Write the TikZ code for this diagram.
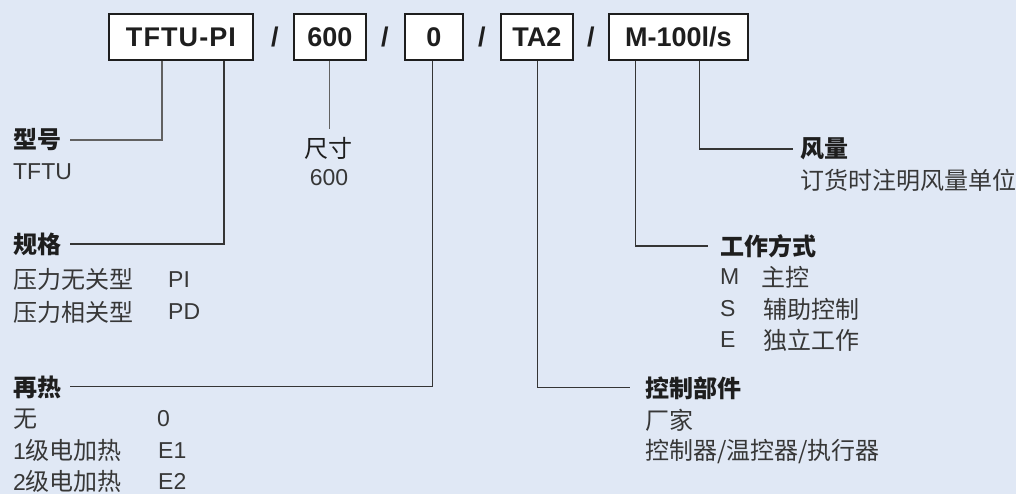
\documentclass[tikz,border=0pt]{standalone}
\usepackage{fontspec}
\setmainfont{Liberation Sans}
\newfontfamily\cjk{Noto Sans CJK SC}
\usetikzlibrary{calc}

\definecolor{bgblue}{RGB}{224,232,245}
\definecolor{ink}{RGB}{30,30,30}
\definecolor{txtgray}{RGB}{55,55,55}

\begin{document}
\begin{tikzpicture}[x=1pt, y=-1pt,
  box/.style={draw=ink, line width=1.6pt, fill=white, minimum height=46pt, inner sep=0,
    font=\fontsize{27}{30}\selectfont\bfseries, text=ink},
  slash/.style={font=\fontsize{27}{30}\selectfont\bfseries, text=ink},
  head/.style={anchor=west, inner sep=0, font=\cjk\fontsize{24}{27}\selectfont\bfseries, text=ink},
  item/.style={anchor=west, inner sep=0, font=\fontsize{23}{27}\selectfont, text=txtgray},
  cjkitem/.style={item, font=\cjk\fontsize{24}{27}\selectfont},
  lead/.style={draw=ink!90, line width=1.1pt}]
\fill [bgblue] (0,0) rectangle (1016,494);

\node [box, minimum width=144pt] (tftu) at (181,37) {\addfontfeature{LetterSpace=4}TFTU-PI};
\node [slash] (s1) at (275,37) {/};
\node [box, minimum width=72pt] (size) at (330,37) {600};
\node [slash] (s2) at (385,37) {/};
\node [box, minimum width=58pt] (heat) at (434,37) {0};
\node [slash] (s3) at (482,37) {/};
\node [box, minimum width=72pt] (ctrl) at (537,37) {TA2};
\node [slash] (s4) at (591,37) {/};
\node [box, minimum width=139pt] (flow) at (678.5,37) {M-100l/s};

\node [head] (type) at (13,140) {型号};
\node [item] (typeval) at (13,172) {TFTU};

\node [anchor=center, inner sep=0, font=\cjk\fontsize{24}{27}\selectfont, text=ink] (dim) at (329,148) {尺寸};
\node [anchor=center, inner sep=0, font=\fontsize{23}{27}\selectfont, text=txtgray] (dimval) at (329,178) {600};

\node [head] (spec) at (13,244) {规格};
\node [cjkitem] (spec1) at (13,280) {压力无关型};
\node [item] (spec1v) at (168,280) {PI};
\node [cjkitem] (spec2) at (13,312) {压力相关型};
\node [item] (spec2v) at (168,312) {PD};

\node [head] (reheat) at (13,387) {再热};
\node [cjkitem] (heat0) at (13,419) {无};
\node [item] (heat0v) at (157,419) {0};
\node [item] (heat1) at (13,451) {1{\cjk\fontsize{24}{27}\selectfont 级电加热}};
\node [item] (heat1v) at (158,451) {E1};
\node [item] (heat2) at (13,482) {2{\cjk\fontsize{24}{27}\selectfont 级电加热}};
\node [item] (heat2v) at (158,482) {E2};

\node [head] (air) at (800,149) {风量};
\node [cjkitem] (air1) at (800,180) {订货时注明风量单位};

\node [head] (mode) at (720,246) {工作方式};
\node [item] (modem) at (720,277) {M};
\node [cjkitem] (modemv) at (761,277) {主控};
\node [item] (modes) at (720,309) {S};
\node [cjkitem] (modesv) at (763,309) {辅助控制};
\node [item] (modee) at (720,340) {E};
\node [cjkitem] (modeev) at (763,340) {独立工作};

\node [head] (part) at (645,388) {控制部件};
\node [cjkitem] (part1) at (645,420) {厂家};
\node [cjkitem] (part2) at (645,452) {控制器/温控器/执行器};

\coordinate (ktype) at (162,0);
\coordinate (kspec) at (224,0);
\coordinate (kheat) at (433,0);
\coordinate (kctrl) at (538,0);
\coordinate (kmode) at (636,0);
\coordinate (kair) at (700,0);

\draw [lead, draw=ink!70] (ktype |- tftu.south) |- ([xshift=9pt]type.east);
\draw [lead] (kspec |- tftu.south) |- ([xshift=9pt]spec.east);
\draw [lead, draw=ink!70] (size.south) -- ([yshift=8pt]size.south |- dim.north);
\draw [lead] (kheat |- heat.south) |- ([xshift=9pt]reheat.east);
\draw [lead] (kctrl |- ctrl.south) |- ([xshift=-15pt]part.west);
\draw [lead] (kmode |- flow.south) |- ([xshift=-12pt]mode.west);
\draw [lead] (kair |- flow.south) |- ([xshift=-7pt]air.west);
\end{tikzpicture}
\end{document}
